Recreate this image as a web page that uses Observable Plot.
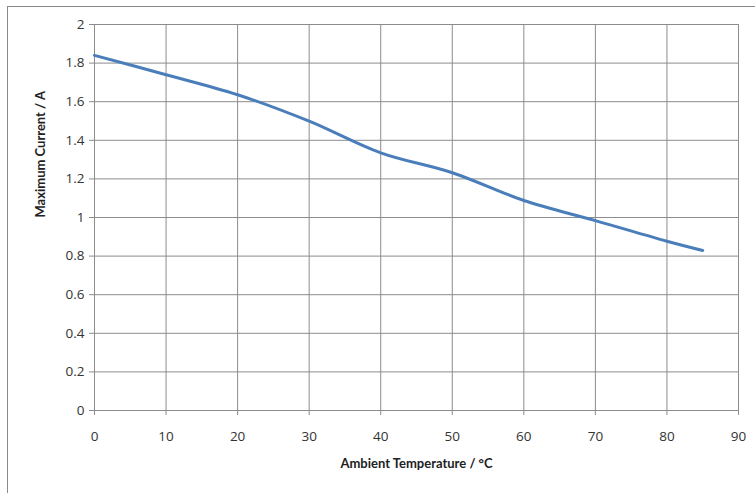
<!DOCTYPE html>
<html>
<head>
<meta charset="utf-8">
<script src="https://cdn.jsdelivr.net/npm/d3@7"></script>
<script src="https://cdn.jsdelivr.net/npm/@observablehq/plot@0.6"></script>
<style>
  html, body { margin: 0; padding: 0; background: #fff; overflow: hidden; }
  #wrap { position: relative; width: 755px; height: 493px; }
  #frame { position: absolute; left: 7px; top: 6px; width: 800px; height: 600px; border: 1.5px solid #8a8a8a; box-sizing: border-box; pointer-events: none; }
  svg { position: absolute; left: 0; top: 0; }
</style>
</head>
<body>
<div id="wrap"><div id="frame"></div></div>
<script>
const temperature = [0, 10, 20, 30, 40, 50, 60, 70, 80, 85];
const maxCurrent = [1.84, 1.74, 1.636, 1.499, 1.335, 1.232, 1.088, 0.984, 0.877, 0.829];
const xTicks = [0, 10, 20, 30, 40, 50, 60, 70, 80, 90];
const yTicks = [0, 0.2, 0.4, 0.6, 0.8, 1, 1.2, 1.4, 1.6, 1.8, 2];
const xLabel = "Ambient Temperature / °C";
const yLabel = "Maximum Current / A";

const data = temperature.map((t, i) => ({t, a: maxCurrent[i]}));
const fontFamily = "'Open Sans', Lato, sans-serif";
const fmt = d => String(+d.toFixed(1));

const chart = Plot.plot({
  width: 755,
  height: 493,
  marginLeft: 94,
  marginRight: 17,
  marginTop: 24,
  marginBottom: 83,
  style: {fontFamily, fontSize: "13px", color: "#222", background: "transparent"},
  x: {domain: [0, 90]},
  y: {domain: [0, 2]},
  marks: [
    Plot.gridX(xTicks, {stroke: "#8c8c8c", strokeOpacity: 1, strokeWidth: 1}),
    Plot.gridY(yTicks, {stroke: "#8c8c8c", strokeOpacity: 1, strokeWidth: 1}),
    Plot.axisX(xTicks, {tickSize: 5, tickPadding: 16, stroke: "#8c8c8c", label: null, tickFormat: fmt, fontSize: 13.5, fill: "#333"}),
    Plot.axisY(yTicks, {tickSize: 5, tickPadding: 5, stroke: "#8c8c8c", label: null, tickFormat: fmt, fontSize: 13.5, fill: "#333"}),
    Plot.line(data, {x: "t", y: "a", stroke: "#4a7ebb", strokeWidth: 3, curve: "catmull-rom"}),
    Plot.text([xLabel], {frameAnchor: "bottom", dy: 57, text: d => d, fontFamily: "Lato, sans-serif", fontWeight: "bold", fontSize: 13, fill: "#222"}),
    Plot.text([yLabel], {frameAnchor: "left", dx: -54, rotate: -90, text: d => d, fontFamily: "Lato, sans-serif", fontWeight: "bold", fontSize: 13, fill: "#222"})
  ]
});
document.getElementById("wrap").prepend(chart);
</script>
</body>
</html>
